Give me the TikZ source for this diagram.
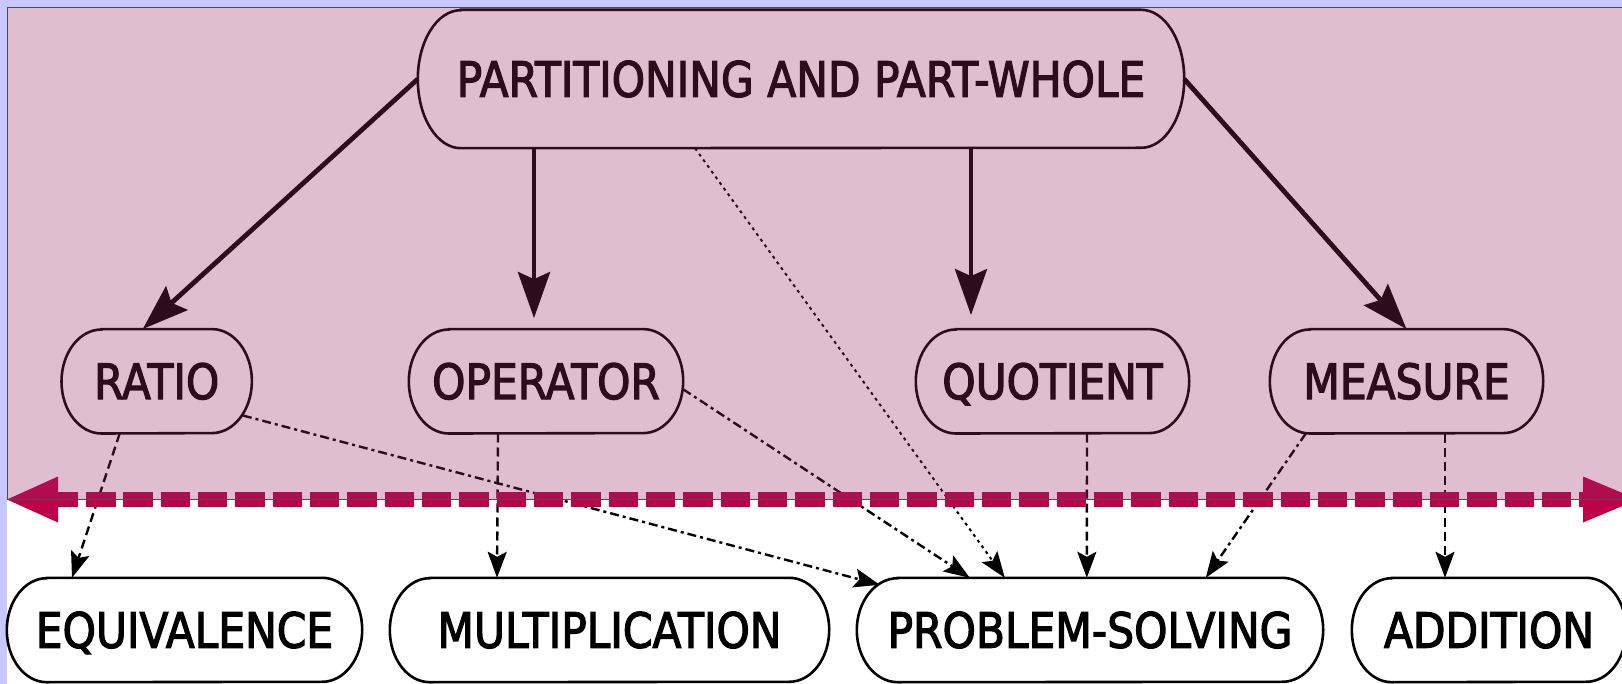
\documentclass[tikz,border=0pt]{standalone}
\usepackage{fontspec}
\setmainfont{DejaVu Sans}[FakeStretch=0.87,FakeBold=2.4]
\usetikzlibrary{arrows.meta}
\definecolor{lav}{RGB}{200,200,255}
\definecolor{ovl}{RGB}{150,43,100}
\definecolor{redband}{RGB}{189,0,72}
\newcommand{\pillpath}[3]{%
  \draw[pillline] ([xshift=#2]#1.north west) -- ([xshift=-#2]#1.north east)
    arc[start angle=90,end angle=-90,x radius=#2,y radius=#3]
    -- ([xshift=#2]#1.south west)
    arc[start angle=270,end angle=90,x radius=#2,y radius=#3] -- cycle;}
\begin{document}
\begin{tikzpicture}[x=1pt,y=-1pt,
  box/.style={inner sep=0pt, text height=35.5pt, text depth=0pt,
    font=\fontsize{48.7pt}{50pt}\selectfont, minimum height=104pt},
  pillline/.style={draw=black, line width=2.6pt},
  solidarrow/.style={draw=black, line width=4.8pt,
    -{Stealth[length=46pt,width=32pt,inset=7pt]}},
  dasharrow/.style={draw=black, line width=2.4pt, dash pattern=on 9pt off 5pt,
    -{Stealth[length=26pt,width=19pt,inset=5pt]}},
  dashdotarrow/.style={dasharrow, dash pattern=on 9pt off 4pt on 3pt off 4pt},
  dotarrow/.style={dasharrow, line width=2pt, dash pattern=on 3pt off 4pt},
  band/.style={draw=redband, line width=15pt, dash pattern=on 29.5pt off 7.83pt, dash phase=9.33pt},
]
\useasboundingbox (0,0) rectangle (1622,684);
\fill[lav] (0,0) rectangle (1622,684);
\fill[white] (7,7) rectangle (1622,684);

% nodes
\node[box, minimum width=766pt, minimum height=138pt] (pw) at (801,79) {PARTITIONING AND PART-WHOLE};
\node[box, minimum width=190pt] (ratio) at (156.7,381.3) {RATIO};
\node[box, minimum width=274pt] (operator) at (546,381.3) {OPERATOR};
\node[box, minimum width=273pt] (quotient) at (1052.5,381.3) {QUOTIENT};
\node[box, minimum width=273pt] (measure) at (1406.5,381.3) {MEASURE};
\node[box, minimum width=355pt] (equiv) at (184.5,630) {EQUIVALENCE};
\node[box, minimum width=439pt] (mult) at (609.5,630) {MULTIPLICATION};
\node[box, minimum width=466pt] (ps) at (1090,630) {PROBLEM-SOLVING};
\node[box, minimum width=274pt] (add) at (1489,630) {ADDITION};

\pillpath{pw}{43pt}{69pt}
\foreach \n in {ratio,operator,quotient,measure,equiv,mult,add}{\pillpath{\n}{40pt}{52pt}}
\pillpath{ps}{41pt}{52pt}

% solid arrows
\draw[solidarrow] (pw.west) -- ([xshift=-14pt]ratio.north);
\draw[solidarrow, shorten >=11pt] ([xshift=-12pt]operator.north |- pw.south) -- ([xshift=-12pt]operator.north);
\draw[solidarrow, shorten >=14pt] ([xshift=-81.5pt]quotient.north |- pw.south) -- ([xshift=-81.5pt]quotient.north);
\draw[solidarrow] (pw.east) -- (measure.north);

% dashed arrows
\draw[dasharrow] ([xshift=-37pt]ratio.south) -- ([xshift=-112.5pt]equiv.north);
\draw[dashdotarrow] ([xshift=-9pt,yshift=18pt]ratio.south east) -- ([xshift=23pt,yshift=-7pt]ps.north west);
\draw[dasharrow] ([xshift=-48pt]operator.south) -- ([xshift=-112.5pt]mult.north);
\draw[dashdotarrow] ([yshift=-8pt]operator.east) -- ([xshift=113pt]ps.north west);
\draw[dotarrow] ([xshift=-106pt]pw.south) -- ([xshift=148pt]ps.north west);
\draw[dasharrow] ([xshift=34.5pt]quotient.south) -- ([xshift=230pt]ps.north west);
\draw[dashdotarrow] ([xshift=36pt]measure.south west) -- ([xshift=349pt]ps.north west);
\draw[dasharrow] ([xshift=38.5pt]measure.south) -- ([xshift=-44pt]add.north);

% red double arrow band
\coordinate (bandL) at (7,499.5);
\coordinate (bandR) at (1638,499.5);
\draw[band] ([xshift=51pt]bandL) -- ([xshift=-55pt]bandR);
\fill[redband] (bandL) -- ([xshift=51pt,yshift=23pt]bandL) -- ([xshift=51pt,yshift=-23pt]bandL) -- cycle;
\fill[redband] (bandR) -- ([xshift=-55pt,yshift=23pt]bandR) -- ([xshift=-55pt,yshift=-23pt]bandR) -- cycle;

% translucent overlay
\fill[ovl, opacity=0.3] (7,7) rectangle (1622,499.5);
\draw[black!70, line width=1.2pt] (1622,7.6) -- (7.6,7.6) -- (7.6,499.5) -- (1622,499.5);
\end{tikzpicture}
\end{document}
